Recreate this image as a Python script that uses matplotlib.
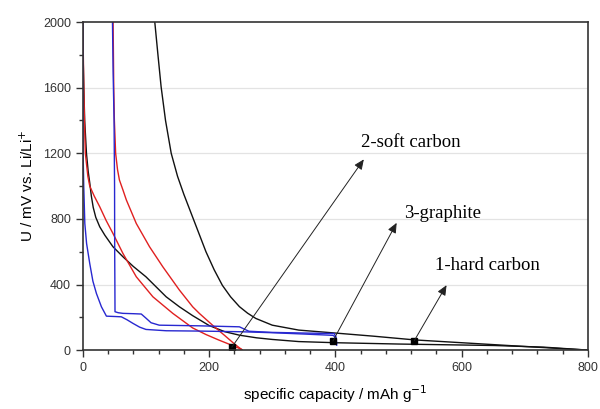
import matplotlib
matplotlib.use("Agg")
import matplotlib.pyplot as plt
from matplotlib.ticker import MultipleLocator

plt.rcParams["font.family"] = ["Liberation Sans", "DejaVu Sans"]

# ---- data ----
hard_dis_x = [0, 0.5, 1.6, 3, 5.8, 8.5, 11, 13.5, 16.5, 20.5, 26.8, 35, 47.8, 63.6, 80, 100, 132, 153, 174,
              200, 225, 248, 275, 300, 342, 400, 500, 652, 730, 800]
hard_dis_y = [2000, 1800, 1600, 1400, 1200, 1090, 1020, 940, 870, 810, 752, 700, 630, 569, 510, 447, 325, 264, 210,
              150, 112, 91, 75, 65, 52, 45, 37, 28, 18, 0]

hard_ch_x = [114, 119, 124, 131, 140, 150, 160, 170, 182, 195, 208, 221, 234, 248, 261, 274, 300, 342,
             400, 460, 526, 600, 700, 800]
hard_ch_y = [2000, 1800, 1606, 1400, 1200, 1060, 950, 850, 730, 600, 490, 395, 325, 265, 225, 193, 152, 122,
             104, 85, 62, 45, 22, 0]

soft_dis_x = [0, 0.8, 1.6, 2.6, 4, 8, 11, 18, 26.8, 37, 47.8, 63.6, 84.7, 111, 142.5, 174, 195, 215, 237, 248, 252]
soft_dis_y = [2000, 1800, 1600, 1400, 1200, 1060, 1000, 940, 874, 790, 711, 589, 447, 325, 224, 135, 95, 62, 28, 10, 3]

soft_ch_x = [48, 48.5, 49, 50, 52, 55, 58, 63.6, 69, 84.7, 105.7, 126.7, 153, 174, 184.5, 206, 225, 240, 248, 252]
soft_ch_y = [2000, 1800, 1600, 1400, 1200, 1100, 1037, 976, 915, 772, 630, 508, 366, 264, 224, 150, 88, 38, 14, 3]

graph_dis_x = [0, 0.3, 0.5, 1.5, 3.2, 6, 11, 16, 21.6, 29.5, 37.4, 50, 61, 70, 79.4, 90, 100, 132, 185,
               250, 300, 350, 396, 400, 402]
graph_dis_y = [2000, 1600, 1200, 1000, 772, 650, 528, 420, 345, 264, 207, 205, 203, 185, 163, 140, 126, 118, 116,
               112, 106, 98, 90, 80, 30]

graph_ch_x = [47, 48, 49.5, 50.3, 50.5, 50.8, 51, 56, 63.6, 80, 92.6, 100, 108, 121, 185, 248, 263,
              300, 350, 398, 401, 402]
graph_ch_y = [2000, 1700, 1400, 1000, 600, 400, 234, 228, 224, 222, 220, 195, 167, 152, 148, 142, 115,
              108, 104, 101, 80, 40]

labels = ["2-soft carbon", "3-graphite", "1-hard carbon"]
label_xy = [(440, 1265), (509, 835), (558, 518)]
arrow_tail = [(236, 18), (396, 55), (525, 58)]
arrow_head = [(445, 1163), (497, 776), (576, 396)]

x_ticks = [0, 200, 400, 600, 800]
y_ticks = [0, 400, 800, 1200, 1600, 2000]

# ---- figure ----
fig = plt.figure(figsize=(6.0, 4.09), dpi=100)
ax = fig.add_axes([0.138, 0.144, 0.842, 0.802])

for y in y_ticks[1:-1]:
    ax.axhline(y, color="#e3e3e3", lw=0.9, zorder=0)

lw = 1.0
ax.plot(hard_dis_x, hard_dis_y, color="#111111", lw=lw)
ax.plot(hard_ch_x, hard_ch_y, color="#111111", lw=lw)
ax.plot(soft_dis_x, soft_dis_y, color="#e02020", lw=lw)
ax.plot(soft_ch_x, soft_ch_y, color="#e02020", lw=lw)
ax.plot(graph_dis_x, graph_dis_y, color="#2828d0", lw=lw)
ax.plot(graph_ch_x, graph_ch_y, color="#2828d0", lw=lw)

for lab, lxy, t, h in zip(labels, label_xy, arrow_tail, arrow_head):
    ax.annotate("", xy=h, xytext=t,
                arrowprops=dict(arrowstyle="-|>,head_length=0.5,head_width=0.22", color="#222222", lw=0.7,
                                mutation_scale=12, shrinkA=0, shrinkB=0))
    ax.plot([t[0]], [t[1]], marker="s", color="black", ms=4)
    ax.text(lxy[0], lxy[1], lab, family="Liberation Serif", fontsize=13.5,
            va="center", ha="left", color="black")

ax.set_xlim(0, 800)
ax.set_ylim(0, 2000)
ax.set_xticks(x_ticks)
ax.set_yticks(y_ticks)
ax.xaxis.set_minor_locator(MultipleLocator(40))
ax.yaxis.set_minor_locator(MultipleLocator(200))
ax.tick_params(which="major", direction="out", length=5, width=1, labelsize=9,
               labelcolor="#333333", color="#333333")
ax.tick_params(which="minor", direction="out", length=3, width=1, color="#333333")
for s in ax.spines.values():
    s.set_color("#333333")
    s.set_linewidth(1.2)

ax.set_xlabel("specific capacity / mAh g$^{-1}$", fontsize=11, labelpad=7)
ax.set_ylabel("U / mV vs. Li/Li$^{+}$", fontsize=11, labelpad=5)

fig.savefig("out.png", dpi=100)
